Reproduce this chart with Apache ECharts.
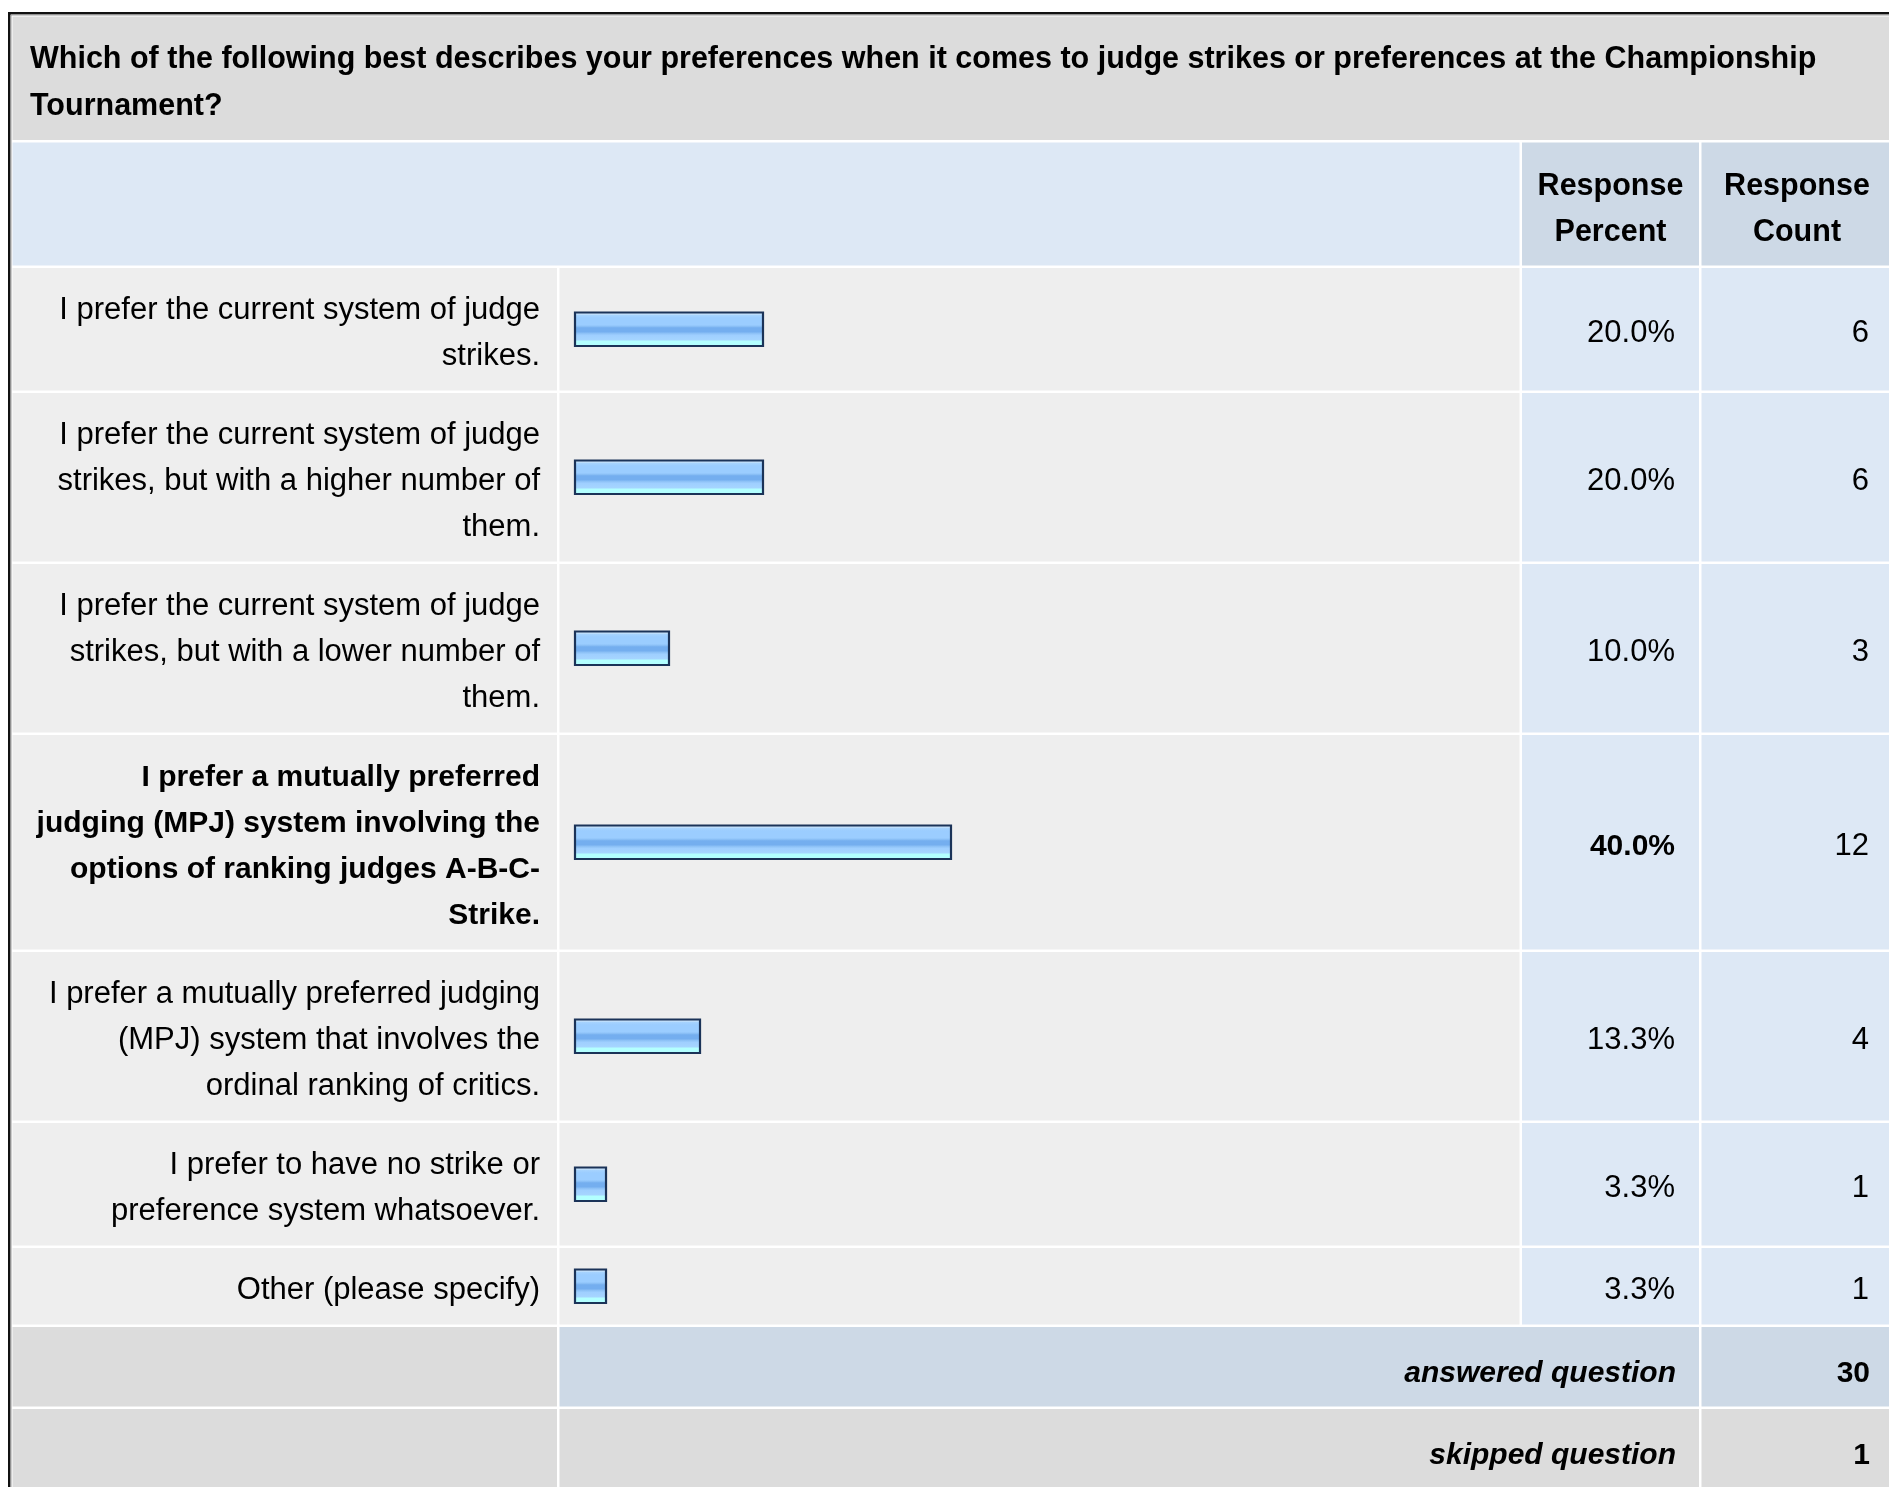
<!DOCTYPE html>
<html>
<head>
<meta charset="utf-8">
<script src="https://cdn.jsdelivr.net/npm/echarts@6/dist/echarts.min.js"></script>
<style>
  html, body { margin: 0; padding: 0; background: #fff; }
  #chart { width: 1889px; height: 1487px; }
</style>
</head>
<body>
<div id="chart"></div>
<script>
// survey data
const questionText = 'Which of the following best describes your preferences when it comes to judge strikes or preferences at the Championship\nTournament?';
const columnHeaders = ['Response\nPercent', 'Response\nCount'];
const answerChoices = [
  'I prefer the current system of judge\nstrikes.',
  'I prefer the current system of judge\nstrikes, but with a higher number of\nthem.',
  'I prefer the current system of judge\nstrikes, but with a lower number of\nthem.',
  'I prefer a mutually preferred\njudging (MPJ) system involving the\noptions of ranking judges A-B-C-\nStrike.',
  'I prefer a mutually preferred judging\n(MPJ) system that involves the\nordinal ranking of critics.',
  'I prefer to have no strike or\npreference system whatsoever.',
  'Other (please specify)'
];
const responsePercent = [20.0, 20.0, 10.0, 40.0, 13.3, 3.3, 3.3];
const responseCount = [6, 6, 3, 12, 4, 1, 1];
const summaryLabels = ['answered question', 'skipped question'];
const summaryCounts = [30, 1];

// layout
const W = 1889, H = 1487;
const FONT = '"Liberation Sans", Arial, Helvetica, sans-serif';
const FS = 31;       // regular text
const FS_BOLD = 30;  // bold text
const LINE_H = 46;
const GAP = 2.5;
const colLabel = [12.5, 557];
const colBar = [559.5, 1519.5];
const colPct = [1522, 1699];
const colCnt = [1701.5, W];
const titleTop = 16.5, titleBottom = 140;
const headTop = 142.5, headBottom = 265.5;
const firstRowTop = 268;

const C = {
  title: '#dcdcdc',
  head: '#dde8f5',
  headCell: '#cdd9e6',
  row: '#eeeeee',
  rowNum: '#dde8f5',
  text: '#000000'
};

const maxPct = Math.max(...responsePercent);

// row tops from number of text lines
const rows = [];
let y = firstRowTop;
answerChoices.forEach((label) => {
  const lines = label.split('\n').length;
  const pitch = 33 + LINE_H * lines;
  rows.push({ top: y, bottom: y + pitch - GAP, center: y + (pitch - GAP) / 2 });
  y += pitch;
});
const summaryRows = summaryLabels.map((s, i) => {
  const top = y + i * 82;
  return { top: top, bottom: top + 79.5, center: top + 79.5 / 2 };
});

function cell(x0, x1, y0, y1, fill) {
  return { type: 'rect', z: 0, silent: true, shape: { x: x0, y: y0, width: x1 - x0, height: y1 - y0 }, style: { fill: fill } };
}
function text(str, x, yc, align, opts) {
  opts = opts || {};
  return {
    type: 'text', z: 10, silent: true, x: x, y: yc,
    style: {
      text: str, fill: C.text, align: align, verticalAlign: 'middle',
      fontFamily: FONT, fontSize: opts.size || (opts.bold ? FS_BOLD : FS), lineHeight: opts.lh || LINE_H,
      fontWeight: opts.bold ? 'bold' : 'normal', fontStyle: opts.italic ? 'italic' : 'normal'
    }
  };
}

const elements = [];
// outer border
elements.push({ type: 'polyline', z: 1, silent: true, shape: { points: [[9.25, H], [9.25, 13.25], [W, 13.25]] }, style: { stroke: '#111', lineWidth: 2.5, fill: null } });
elements.push({ type: 'polyline', z: 1, silent: true, shape: { points: [[11, H], [11, 15], [W, 15]] }, style: { stroke: '#9a9a9a', lineWidth: 1, fill: null } });

// title
elements.push(cell(colLabel[0], W, titleTop, titleBottom, C.title));
elements.push(text(questionText, 30, (titleTop + titleBottom) / 2 + 5, 'left', { bold: true, size: 30.5, lh: 47 }));

// header
elements.push(cell(colLabel[0], colBar[1], headTop, headBottom, C.head));
elements.push(cell(colPct[0], colPct[1], headTop, headBottom, C.headCell));
elements.push(cell(colCnt[0], colCnt[1], headTop, headBottom, C.headCell));
elements.push(text(columnHeaders[0], (colPct[0] + colPct[1]) / 2, (headTop + headBottom) / 2 + 5.5, 'center', { bold: true, size: 30.5 }));
elements.push(text(columnHeaders[1], 1797, (headTop + headBottom) / 2 + 5.5, 'center', { bold: true, size: 30.5 }));

// answer rows
rows.forEach((r, i) => {
  const top = responsePercent[i] === maxPct;
  elements.push(cell(colLabel[0], colLabel[1], r.top, r.bottom, C.row));
  elements.push(cell(colBar[0], colBar[1], r.top, r.bottom, C.row));
  elements.push(cell(colPct[0], colPct[1], r.top, r.bottom, C.rowNum));
  elements.push(cell(colCnt[0], colCnt[1], r.top, r.bottom, C.rowNum));
  elements.push(text(answerChoices[i], 540, r.center + 4, 'right', { bold: top }));
  elements.push(text(responsePercent[i].toFixed(1) + '%', 1675, r.center + 4.5, 'right', { bold: top }));
  elements.push(text(String(responseCount[i]), 1869, r.center + 4.5, 'right'));
});

// summary rows
summaryRows.forEach((r, i) => {
  const mid = i === 0 ? C.headCell : C.title;
  elements.push(cell(colLabel[0], colLabel[1], r.top, r.bottom, C.title));
  elements.push(cell(colBar[0], colPct[1], r.top, r.bottom, mid));
  elements.push(cell(colCnt[0], colCnt[1], r.top, r.bottom, mid));
  elements.push(text(summaryLabels[i], 1676, r.center + 7, 'right', { bold: true, italic: true }));
  elements.push(text(String(summaryCounts[i]), 1870, r.center + 7, 'right', { bold: true }));
});

const barFill = new echarts.graphic.LinearGradient(0, 0, 0, 1, [
  { offset: 0, color: '#c8e3fb' },
  { offset: 0.08, color: '#c8e3fb' },
  { offset: 0.1, color: '#a8d4fd' },
  { offset: 0.18, color: '#9bcdff' },
  { offset: 0.38, color: '#9bcdff' },
  { offset: 0.43, color: '#86bcf4' },
  { offset: 0.46, color: '#74aeef' },
  { offset: 0.57, color: '#74aeef' },
  { offset: 0.62, color: '#8ec2f7' },
  { offset: 0.67, color: '#9fcfff' },
  { offset: 0.8, color: '#a6d5ff' },
  { offset: 0.83, color: '#b3ffff' },
  { offset: 1, color: '#b3ffff' }
]);

const chart = echarts.init(document.getElementById('chart'));
chart.setOption({
  animation: false,
  backgroundColor: '#ffffff',
  grid: { left: 575, top: 0, width: 940, height: H },
  xAxis: { type: 'value', min: 0, max: 100, show: false },
  yAxis: { type: 'value', min: 0, max: H, inverse: true, show: false },
  graphic: { elements: elements },
  series: [{
    type: 'custom',
    z: 5,
    silent: true,
    data: responsePercent.map((p, i) => [p, rows[i].center]),
    renderItem: (params, api) => {
      const start = api.coord([0, api.value(1)]);
      const end = api.coord([api.value(0), api.value(1)]);
      const h = 33.5;
      return {
        type: 'rect',
        shape: { x: start[0], y: start[1] - h / 2, width: end[0] - start[0], height: h },
        style: { fill: barFill, stroke: '#1b3358', lineWidth: 2.2 }
      };
    }
  }]
});
</script>
</body>
</html>
